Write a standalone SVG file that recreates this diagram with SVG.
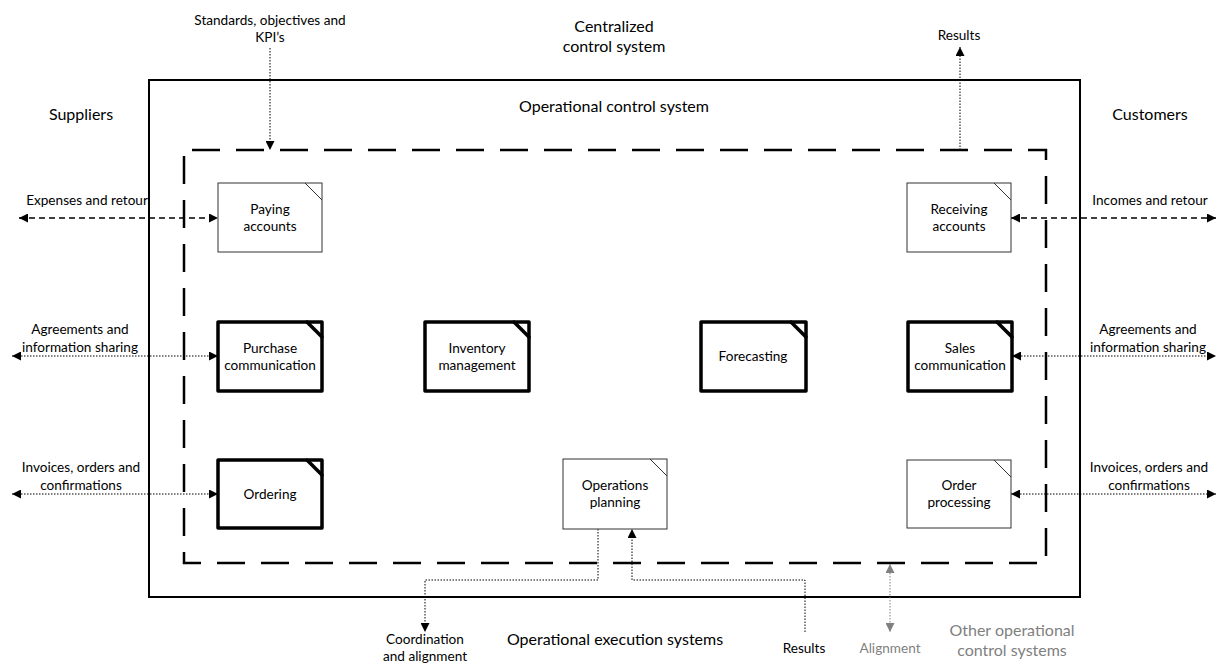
<svg xmlns="http://www.w3.org/2000/svg" width="1218" height="664" viewBox="0 0 1218 664">
  <style>
    text { font-family: Lato, "Open Sans", "Liberation Sans", sans-serif; fill: #000; text-anchor: middle; }
    .lbl { font-size: 13.6px; }
    .big { font-size: 16px; }
    .grey { fill: #7f7f7f; }
    .node { fill: #fff; stroke: #333; stroke-width: 1; }
    .ear { fill: none; stroke: #333; stroke-width: 1; }
    .node.key { stroke: #000; stroke-width: 3.5; stroke-linejoin: round; }
    .ear.key { stroke: #000; stroke-width: 3.5; stroke-linecap: round; }
    .outer { fill: none; stroke: #000; stroke-width: 2; }
    .inner { fill: none; stroke: #000; stroke-width: 2.5; stroke-dasharray: 28 16; stroke-dashoffset: 36; }
    .dot { fill: none; stroke: #000; stroke-width: 1; stroke-dasharray: 1.5 1.5; }
    .dash { fill: none; stroke: #000; stroke-width: 1.5; stroke-dasharray: 6 4; }
    .dot.grey { stroke: #808080; }
  </style>
  <defs>
    <marker id="arr" viewBox="0 0 10 10" refX="10" refY="5" markerWidth="11" markerHeight="9" markerUnits="userSpaceOnUse" orient="auto-start-reverse">
      <path d="M0,0 L10,5 L0,10 z" fill="#000"/>
    </marker>
    <marker id="arrGrey" viewBox="0 0 10 10" refX="10" refY="5" markerWidth="11" markerHeight="9" markerUnits="userSpaceOnUse" orient="auto-start-reverse">
      <path d="M0,0 L10,5 L0,10 z" fill="#808080"/>
    </marker>
  </defs>

  <rect width="1218" height="664" fill="#fff"/>

  <!-- system boundaries -->
  <g id="boundaries">
    <rect class="outer" x="149" y="80" width="931" height="517"/>
    <path class="inner" d="M184,150 H1046 V563 H184 Z"/>
  </g>

  <!-- free-standing titles -->
  <g id="titles">
    <text class="big" x="614" y="32">Centralized</text>
    <text class="big" x="614" y="52">control system</text>
    <text class="big" x="614" y="112">Operational control system</text>
    <text class="big" x="81" y="120">Suppliers</text>
    <text class="big" x="1150" y="120">Customers</text>
    <text class="big" x="615" y="645">Operational execution systems</text>
    <text class="big grey" x="1012" y="636">Other operational</text>
    <text class="big grey" x="1012" y="656">control systems</text>
  </g>

  <!-- connectors -->
  <g id="connectors">
    <line class="dot" x1="270" y1="48" x2="270" y2="150" marker-end="url(#arr)"/>
    <line class="dot" x1="960" y1="150" x2="960" y2="47" marker-end="url(#arr)"/>

    <line class="dash" x1="19" y1="218" x2="218" y2="218" marker-start="url(#arr)" marker-end="url(#arr)"/>
    <line class="dash" x1="1011" y1="218" x2="1216" y2="218" marker-start="url(#arr)" marker-end="url(#arr)"/>

    <line class="dot" x1="12" y1="356" x2="218" y2="356" marker-start="url(#arr)" marker-end="url(#arr)"/>
    <line class="dot" x1="1012" y1="356" x2="1216" y2="356" marker-start="url(#arr)" marker-end="url(#arr)"/>

    <line class="dot" x1="12" y1="494" x2="218" y2="494" marker-start="url(#arr)" marker-end="url(#arr)"/>
    <line class="dot" x1="1011" y1="494" x2="1216" y2="494" marker-start="url(#arr)" marker-end="url(#arr)"/>

    <path class="dot" d="M598,529 V580 H425 V632" marker-end="url(#arr)"/>
    <path class="dot" d="M805,632 V580 H632 V529" marker-end="url(#arr)"/>

    <line class="dot grey" x1="890" y1="564" x2="890" y2="632" marker-start="url(#arrGrey)" marker-end="url(#arrGrey)"/>

    <text class="lbl" x="270" y="25">Standards, objectives and</text>
    <text class="lbl" x="270" y="42">KPI’s</text>
    <text class="lbl" x="959" y="40">Results</text>
    <text class="lbl" x="87" y="205">Expenses and retour</text>
    <text class="lbl" x="1150" y="205">Incomes and retour</text>
    <text class="lbl" x="80" y="334">Agreements and</text>
    <text class="lbl" x="80" y="352">information sharing</text>
    <text class="lbl" x="1148" y="334">Agreements and</text>
    <text class="lbl" x="1148" y="352">information sharing</text>
    <text class="lbl" x="81" y="472">Invoices, orders and</text>
    <text class="lbl" x="81" y="490">confirmations</text>
    <text class="lbl" x="1149" y="472">Invoices, orders and</text>
    <text class="lbl" x="1149" y="490">confirmations</text>
    <text class="lbl" x="425" y="644">Coordination</text>
    <text class="lbl" x="425" y="661">and alignment</text>
    <text class="lbl" x="804" y="653">Results</text>
    <text class="lbl grey" x="890" y="653">Alignment</text>
  </g>

  <!-- control functions -->
  <g id="paying-accounts">
    <rect class="node" x="218" y="183" width="104" height="69"/>
    <path class="ear" d="M305,183 L322,200"/>
    <text class="lbl" x="270" y="214">Paying</text>
    <text class="lbl" x="270" y="231">accounts</text>
  </g>
  <g id="receiving-accounts">
    <rect class="node" x="907" y="183" width="104" height="69"/>
    <path class="ear" d="M994,183 L1011,200"/>
    <text class="lbl" x="959" y="214">Receiving</text>
    <text class="lbl" x="959" y="231">accounts</text>
  </g>
  <g id="purchase-communication">
    <rect class="node key" x="218" y="322" width="104" height="69"/>
    <path class="ear key" d="M307,322 L322,337"/>
    <text class="lbl" x="270" y="353">Purchase</text>
    <text class="lbl" x="270" y="370">communication</text>
  </g>
  <g id="inventory-management">
    <rect class="node key" x="425" y="322" width="104" height="69"/>
    <path class="ear key" d="M514,322 L529,337"/>
    <text class="lbl" x="477" y="353">Inventory</text>
    <text class="lbl" x="477" y="370">management</text>
  </g>
  <g id="forecasting">
    <rect class="node key" x="701" y="322" width="105" height="69"/>
    <path class="ear key" d="M791,322 L806,337"/>
    <text class="lbl" x="753" y="361">Forecasting</text>
  </g>
  <g id="sales-communication">
    <rect class="node key" x="908" y="322" width="104" height="69"/>
    <path class="ear key" d="M997,322 L1012,337"/>
    <text class="lbl" x="960" y="353">Sales</text>
    <text class="lbl" x="960" y="370">communication</text>
  </g>
  <g id="ordering">
    <rect class="node key" x="218" y="460" width="104" height="68"/>
    <path class="ear key" d="M307,460 L322,475"/>
    <text class="lbl" x="270" y="499">Ordering</text>
  </g>
  <g id="operations-planning">
    <rect class="node" x="563" y="459" width="104" height="70"/>
    <path class="ear" d="M650,459 L667,476"/>
    <text class="lbl" x="615" y="490">Operations</text>
    <text class="lbl" x="615" y="507">planning</text>
  </g>
  <g id="order-processing">
    <rect class="node" x="907" y="460" width="104" height="68"/>
    <path class="ear" d="M994,460 L1011,477"/>
    <text class="lbl" x="959" y="490">Order</text>
    <text class="lbl" x="959" y="507">processing</text>
  </g>
</svg>
